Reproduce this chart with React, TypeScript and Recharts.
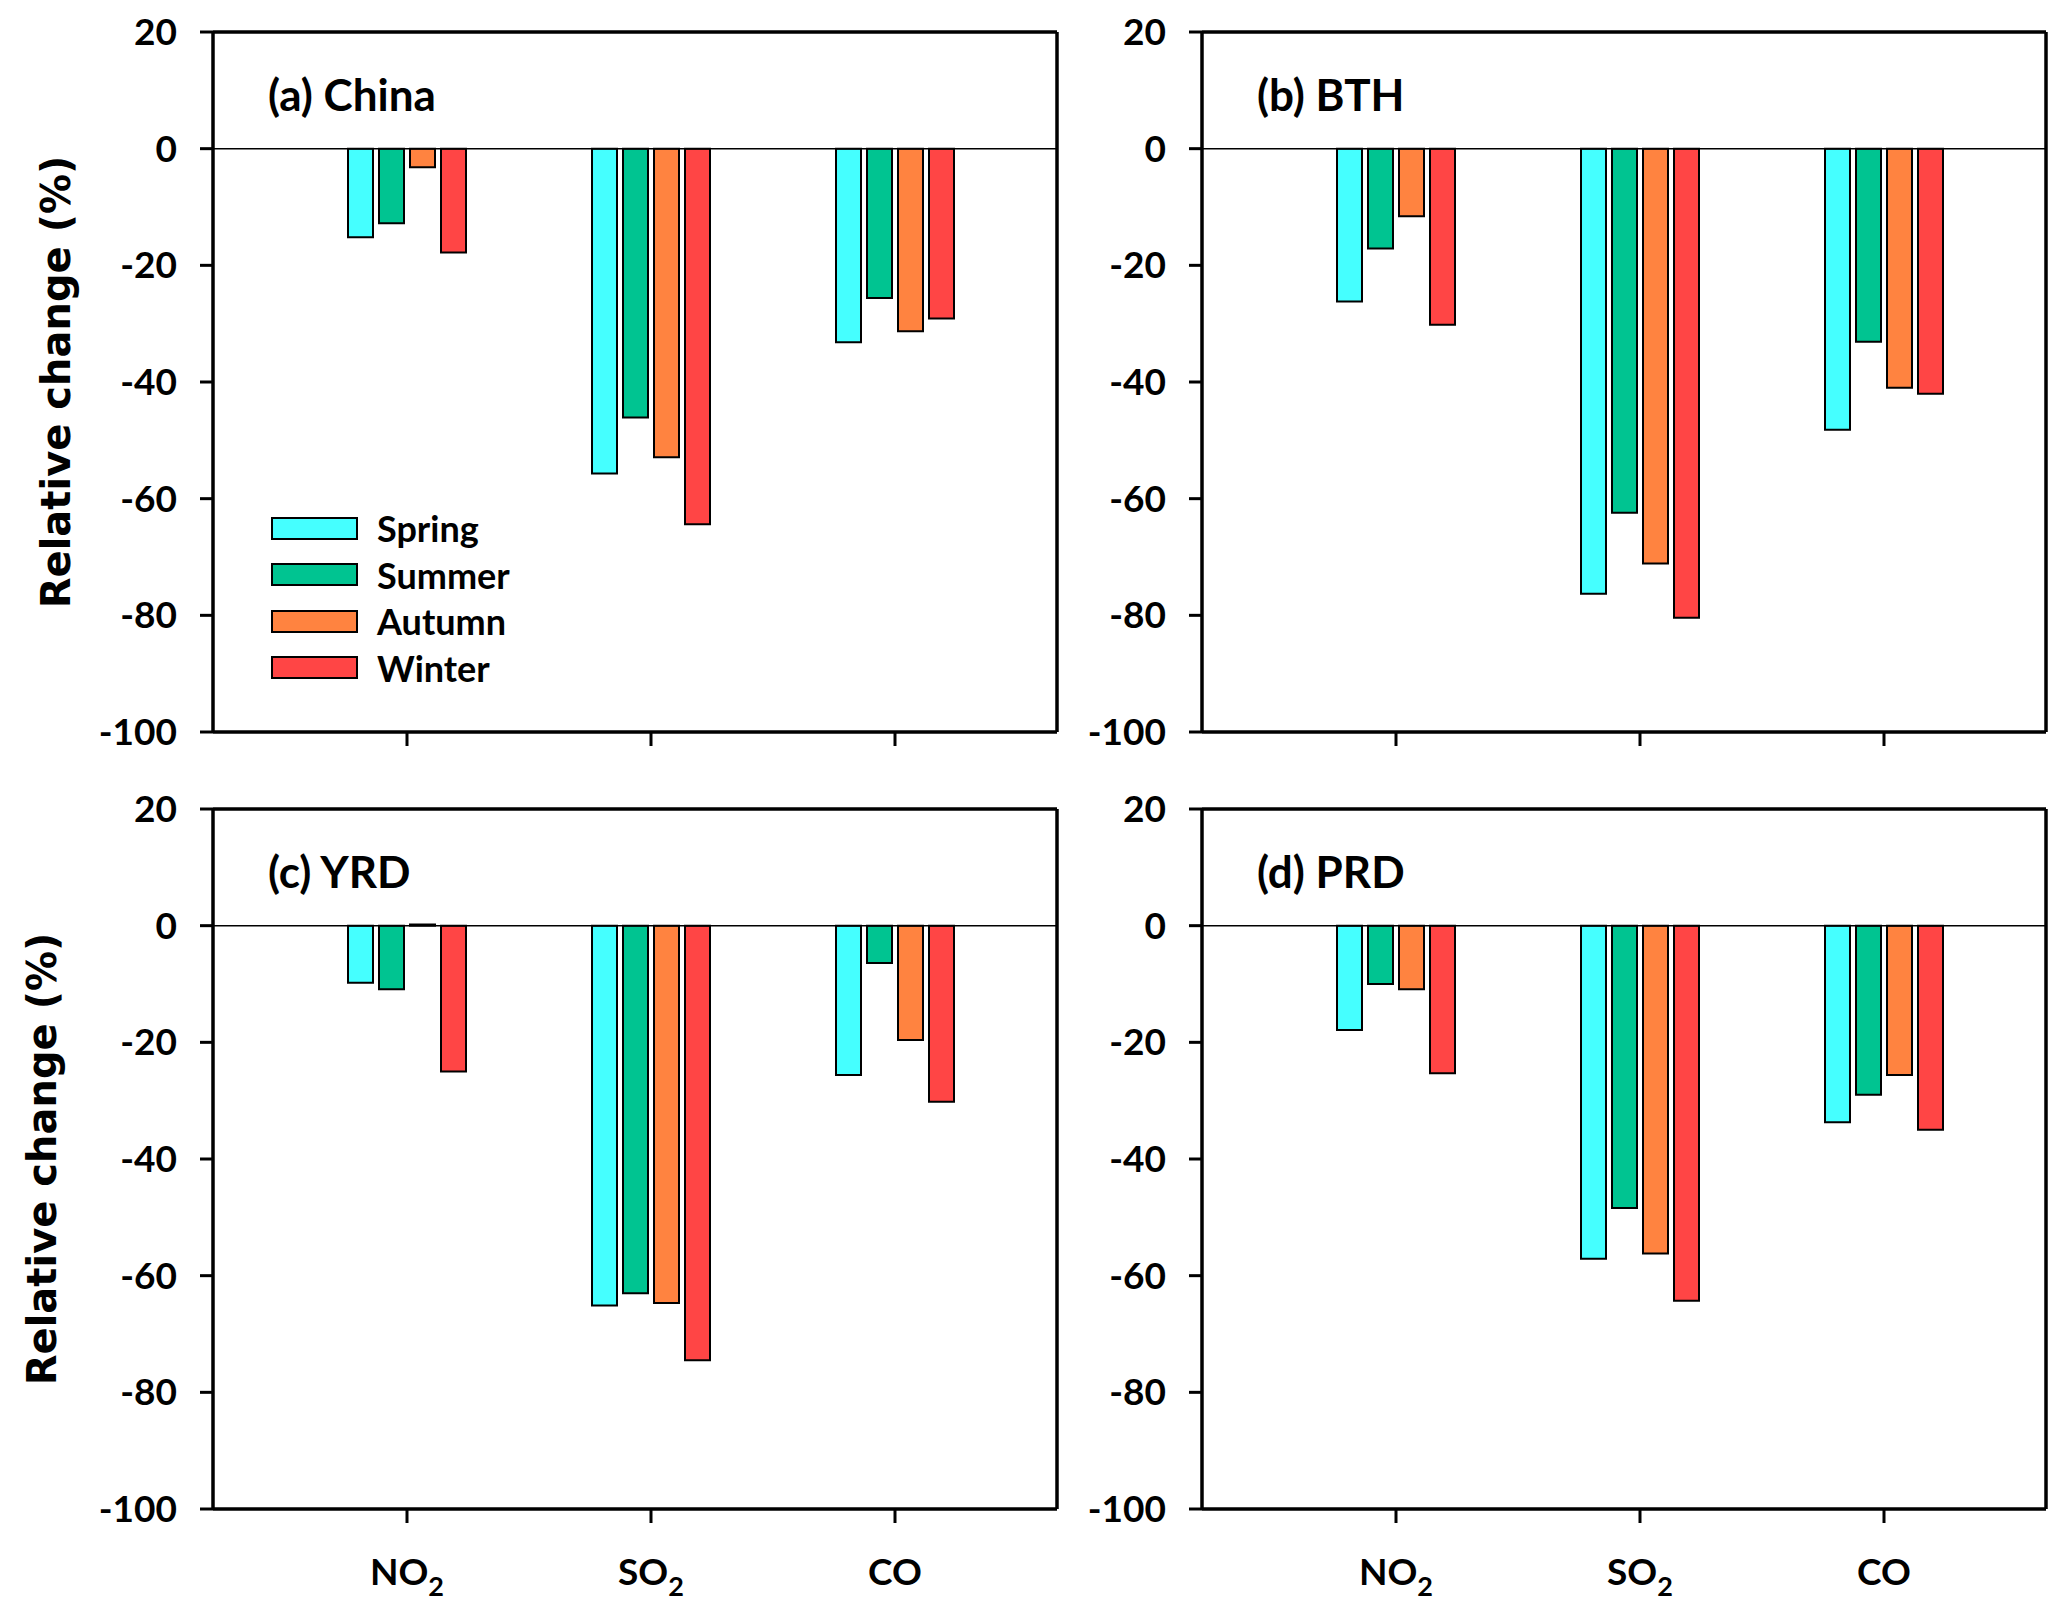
import { BarChart, Bar, XAxis, YAxis, ReferenceLine, Legend } from "recharts";

const pollutants = ["NO2", "SO2", "CO"];
const seasons = ["Spring", "Summer", "Autumn", "Winter"];
const seasonColors = ["#45FFFF", "#00C491", "#FF8340", "#FF4545"];
const yTicks = [-100, -80, -60, -40, -20, 0, 20];

// values per season, order NO2, SO2, CO
const chinaSpring = [-15.2, -55.7, -33.2];
const chinaSummer = [-12.8, -46.1, -25.6];
const chinaAutumn = [-3.2, -52.9, -31.3];
const chinaWinter = [-17.8, -64.4, -29.1];

const bthSpring = [-26.2, -76.3, -48.2];
const bthSummer = [-17.1, -62.4, -33.1];
const bthAutumn = [-11.6, -71.1, -41.0];
const bthWinter = [-30.2, -80.4, -42.0];

const yrdSpring = [-9.8, -65.1, -25.6];
const yrdSummer = [-10.9, -63.0, -6.4];
const yrdAutumn = [0.2, -64.7, -19.6];
const yrdWinter = [-25.0, -74.5, -30.2];

const prdSpring = [-17.9, -57.1, -33.7];
const prdSummer = [-10.0, -48.4, -29.0];
const prdAutumn = [-10.9, -56.2, -25.6];
const prdWinter = [-25.3, -64.3, -35.0];

const buildRows = (sp: number[], su: number[], au: number[], wi: number[]) =>
  pollutants.map((p, i) => ({ pollutant: p, Spring: sp[i], Summer: su[i], Autumn: au[i], Winter: wi[i] }));

const tickFont = { fontFamily: "Lato", fontWeight: 700, fontSize: 37, fill: "#000" };
const PLOT_W = 844;
const PLOT_H = 700;
const Y_AXIS_W = 213;

function PollutantTick({ x, y, payload }: any) {
  const m = String(payload.value).match(/^([A-Z]+)(\d*)$/);
  const base = m ? m[1] : payload.value;
  const sub = m ? m[2] : "";
  return (
    <text x={x} y={y + 62} textAnchor="middle" {...tickFont}>
      <tspan>{base}</tspan>
      {sub && (
        <tspan dy={11} fontSize={27}>
          {sub}
        </tspan>
      )}
    </text>
  );
}

function SeasonLegend() {
  return (
    <div style={{ fontFamily: "Lato", fontWeight: 700, fontSize: 36, color: "#000" }}>
      {seasons.map((s, i) => (
        <div key={s} style={{ display: "flex", alignItems: "center", height: 46.5 }}>
          <div
            style={{
              width: 83,
              height: 19,
              background: seasonColors[i],
              border: "2.5px solid #000",
              marginRight: 19,
            }}
          />
          <span>{s}</span>
        </div>
      ))}
    </div>
  );
}

interface PanelProps {
  left: number;
  top: number;
  title: string;
  rows: any[];
  showXLabels: boolean;
  yTitleX?: number;
  legend?: boolean;
}

function Panel({ left, top, title, rows, showXLabels, yTitleX, legend }: PanelProps) {
  const xAxisH = showXLabels ? 100 : 30;
  return (
    <div style={{ position: "absolute", left, top }}>
      <BarChart
        width={Y_AXIS_W + PLOT_W + 10}
        height={32 + PLOT_H + xAxisH}
        data={rows}
        margin={{ top: 30, right: 0, bottom: 0, left: 0 }}
        barSize={25}
        barGap={6}
      >
        <XAxis
          dataKey="pollutant"
          padding={{ left: 72, right: 40 }}
          axisLine={{ stroke: "#000", strokeWidth: 3.5 }}
          tickLine={{ stroke: "#000", strokeWidth: 3 }}
          tickSize={14}
          tickMargin={0}
          height={xAxisH}
          interval={0}
          tick={showXLabels ? <PollutantTick /> : () => <g />}
        />
        <XAxis
          xAxisId="top"
          dataKey="pollutant"
          orientation="top"
          height={2}
          tick={false}
          tickLine={false}
          axisLine={{ stroke: "#000", strokeWidth: 3.5 }}
          label={{
            content: (p: any) => (
              <text
                x={p.viewBox.x + 55}
                y={p.viewBox.y + p.viewBox.height + 79}
                fontFamily="Lato"
                fontWeight={700}
                fontSize={44}
                fill="#000"
              >
                {title}
              </text>
            ),
          }}
        />
        <YAxis
          type="number"
          domain={[-100, 20]}
          ticks={yTicks}
          interval={0}
          width={Y_AXIS_W}
          axisLine={{ stroke: "#000", strokeWidth: 3.5 }}
          tickLine={{ stroke: "#000", strokeWidth: 3 }}
          tickSize={13}
          tickMargin={23}
          tick={tickFont}
          label={
            yTitleX !== undefined
              ? {
                  content: (p: any) => {
                    const cy = p.viewBox.y + p.viewBox.height / 2;
                    return (
                      <text
                        x={yTitleX}
                        y={cy}
                        transform={`rotate(-90, ${yTitleX}, ${cy})`}
                        textAnchor="middle"
                        dominantBaseline="central"
                        fontFamily="DejaVu Sans"
                        fontWeight={700}
                        fontSize={40}
                        fill="#000"
                      >
                        Relative change (%)
                      </text>
                    );
                  },
                }
              : undefined
          }
        />
        <YAxis
          yAxisId="right"
          orientation="right"
          type="number"
          domain={[-100, 20]}
          width={10}
          tick={false}
          tickLine={false}
          axisLine={{ stroke: "#000", strokeWidth: 3.5 }}
        />
        <ReferenceLine y={0} stroke="#000" strokeWidth={1.5} />
        {legend && (
          <Legend
            layout="vertical"
            align="center"
            verticalAlign="middle"
            content={() => <SeasonLegend />}
            wrapperStyle={{ position: "absolute", left: 271, top: 505, width: 300 }}
          />
        )}
        {seasons.map((s, i) => (
          <Bar
            key={s}
            dataKey={s}
            fill={seasonColors[i]}
            stroke="#000"
            strokeWidth={2}
            isAnimationActive={false}
          />
        ))}
      </BarChart>
    </div>
  );
}

export default function App() {
  return (
    <div style={{ position: "absolute", left: 0, top: 0, width: 2067, height: 1615, background: "#fff" }}>
      <Panel
        left={0}
        top={0}
        title="(a) China"
        rows={buildRows(chinaSpring, chinaSummer, chinaAutumn, chinaWinter)}
        showXLabels={false}
        yTitleX={56}
        legend
      />
      <Panel
        left={989}
        top={0}
        title="(b) BTH"
        rows={buildRows(bthSpring, bthSummer, bthAutumn, bthWinter)}
        showXLabels={false}
      />
      <Panel
        left={0}
        top={777}
        title="(c) YRD"
        rows={buildRows(yrdSpring, yrdSummer, yrdAutumn, yrdWinter)}
        showXLabels
        yTitleX={42}
      />
      <Panel
        left={989}
        top={777}
        title="(d) PRD"
        rows={buildRows(prdSpring, prdSummer, prdAutumn, prdWinter)}
        showXLabels
      />
    </div>
  );
}
